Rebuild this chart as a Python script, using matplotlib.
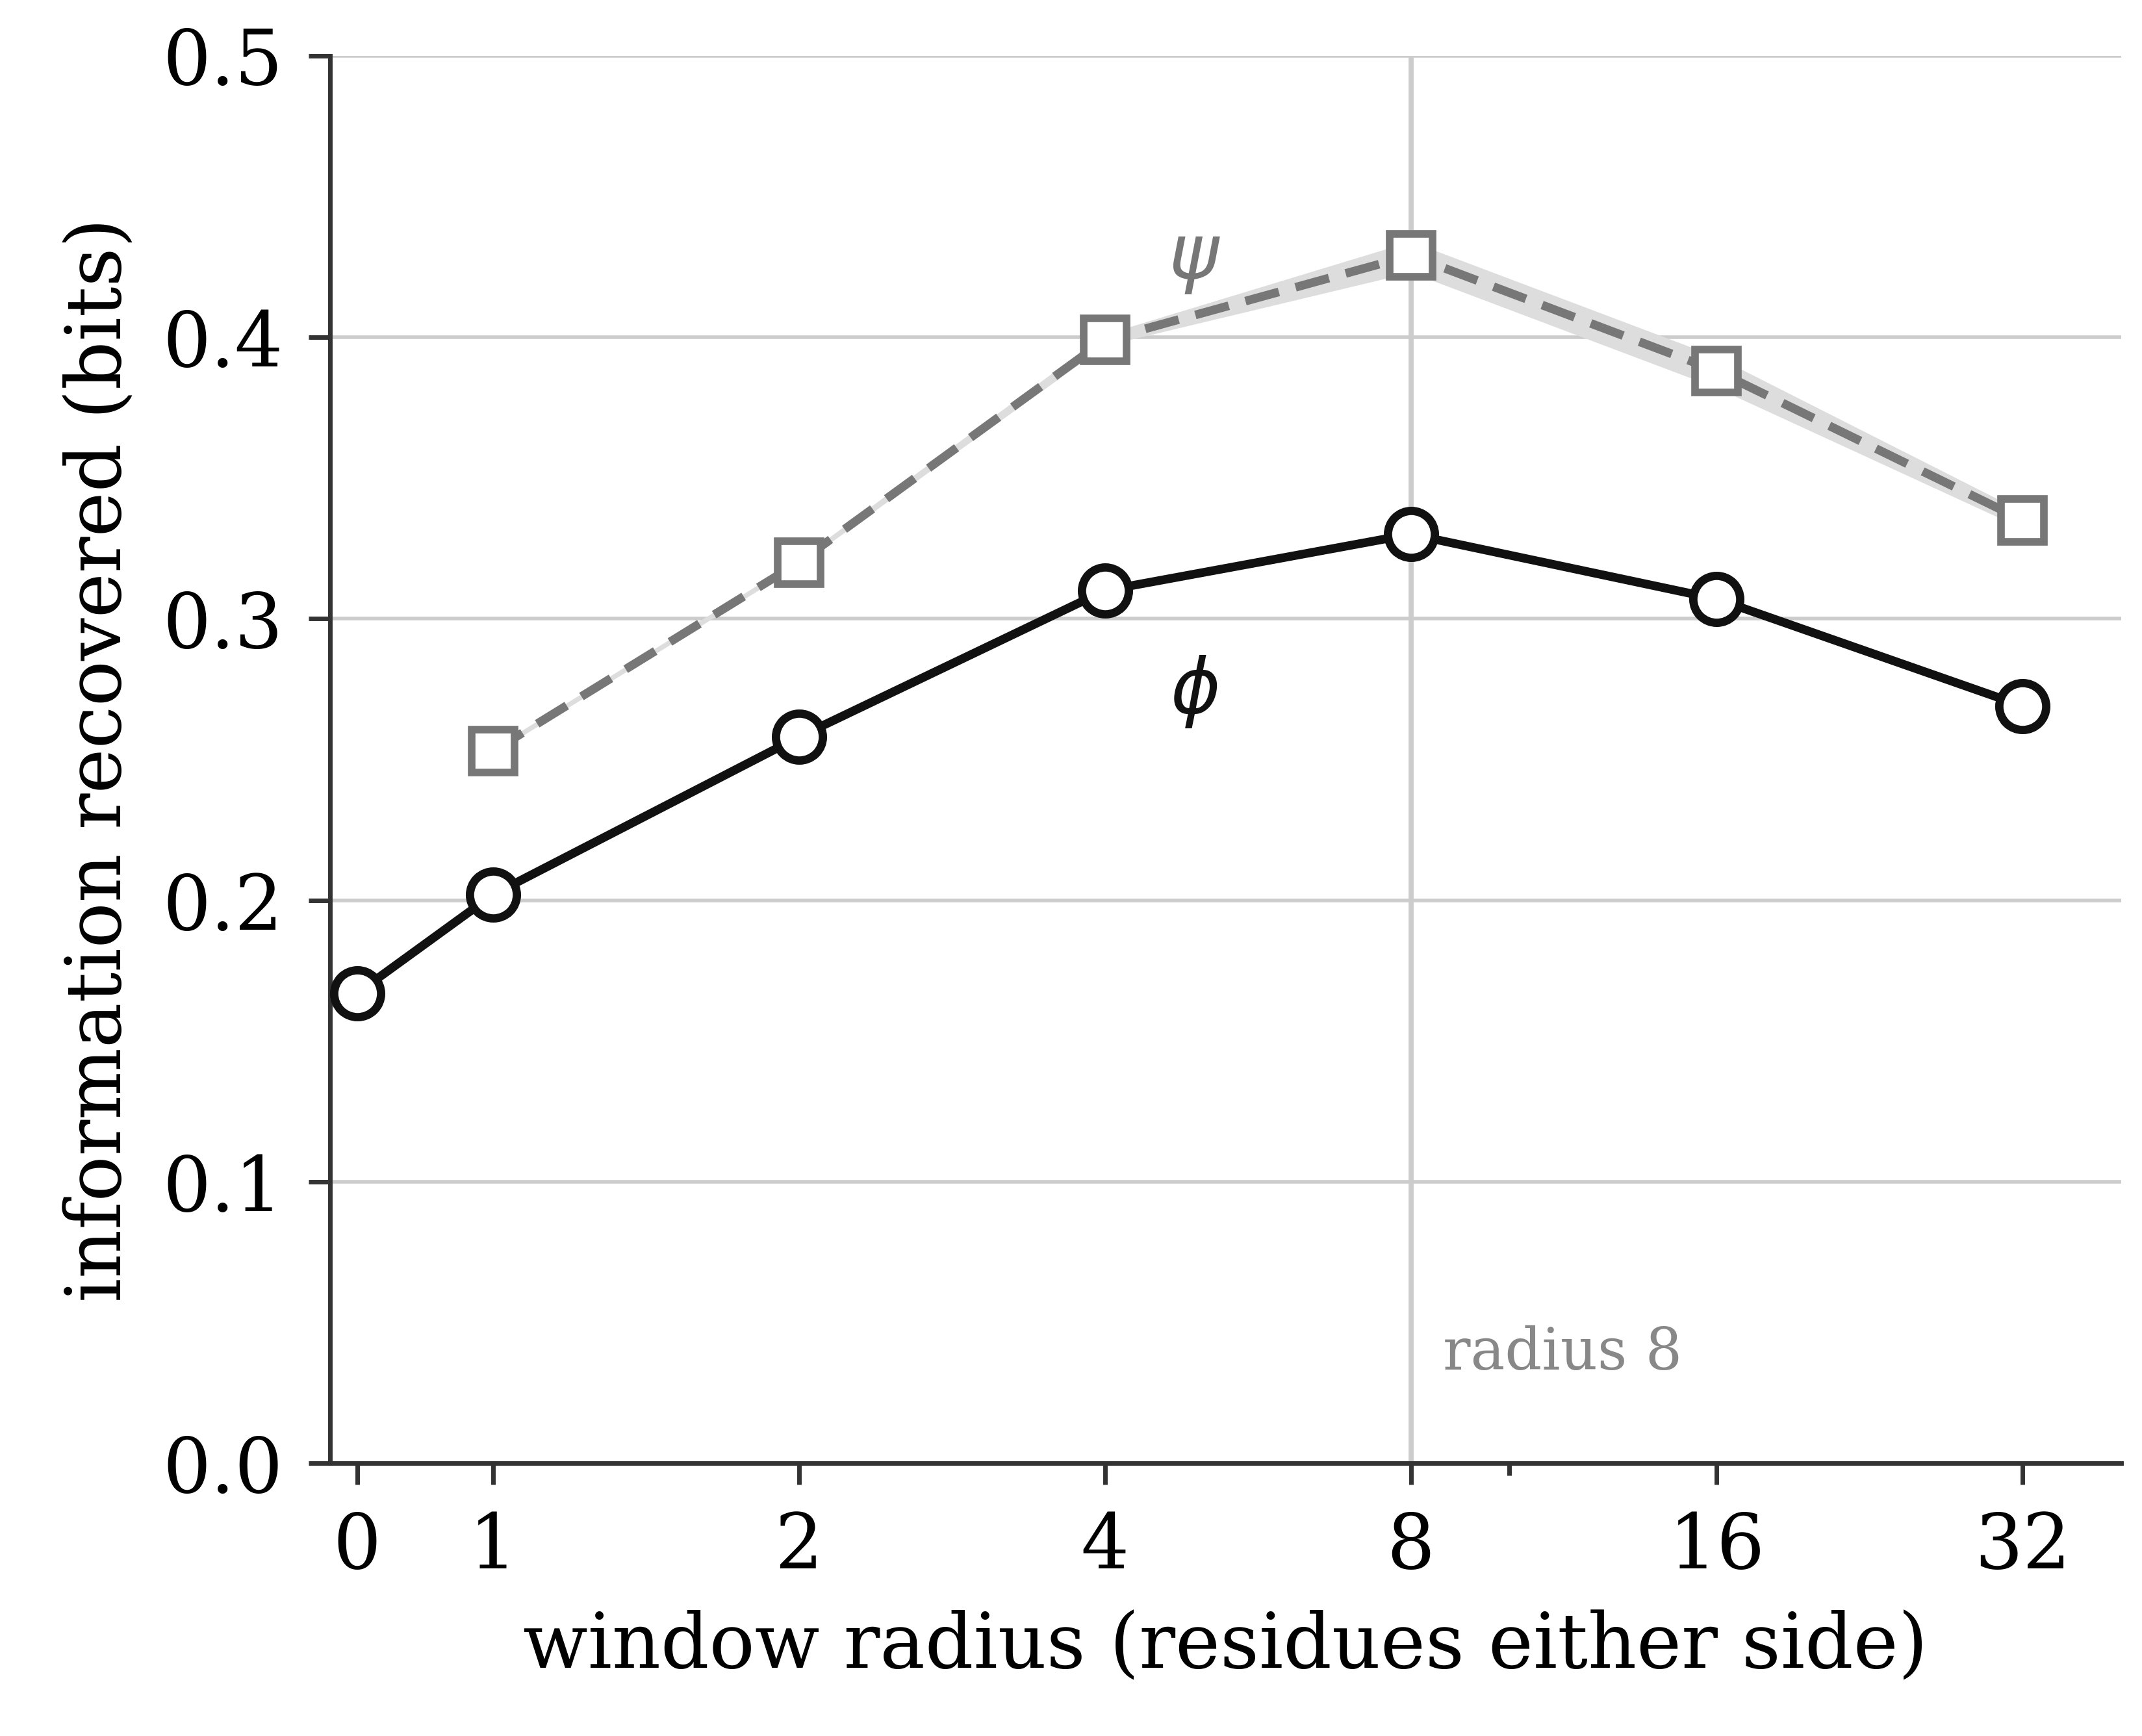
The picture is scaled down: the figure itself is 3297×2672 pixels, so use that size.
import matplotlib
matplotlib.use("Agg")
import matplotlib.pyplot as plt
from matplotlib.ticker import FixedLocator

radius = [0, 1, 2, 4, 8, 16, 32]
phi = [0.167, 0.202, 0.258, 0.310, 0.330, 0.307, 0.269]
psi_r = [1, 2, 4, 8, 16, 32]
psi = [0.253, 0.320, 0.399, 0.429, 0.388, 0.335]
psi_lo = [0.252, 0.319, 0.397, 0.423, 0.382, 0.332]
psi_hi = [0.254, 0.321, 0.401, 0.434, 0.393, 0.338]
xticks = [0, 1, 2, 4, 8, 16, 32]

plt.rcParams['font.family'] = ['DejaVu Serif']
fig = plt.figure(figsize=(16.49, 13.36), dpi=200)
ax = fig.add_axes([0.154, 0.157, 0.836, 0.811])
ax.set_xscale('symlog', base=2, linthresh=1, linscale=0.222)

for y in [0.1, 0.2, 0.3, 0.4, 0.5]:
    ax.axhline(y, color='#cccccc', lw=2, zorder=0)
ax.axvline(8, color='#cccccc', lw=2.8, zorder=0)

ax.fill_between(psi_r, psi_lo, psi_hi, color='#dddddd', lw=0, zorder=1)
ax.plot(psi_r, psi, color='#777777', lw=4.8, ls=(0, (4, 2)), marker='s', ms=24,
        mfc='white', mec='#777777', mew=4.2, zorder=2)
ax.plot(radius, phi, color='#111111', lw=4.8, marker='o', ms=26,
        mfc='white', mec='#111111', mew=4.6, zorder=3)

ax.text(4.9, 0.428, r'$\psi$', color='#777777', fontsize=42, ha='center', va='center')
ax.text(4.9, 0.274, r'$\phi$', color='#111111', fontsize=42, ha='center', va='center')
ax.text(8.6, 0.039, 'radius 8', color='#888888', fontsize=32, ha='left', va='center')

ax.set_xlim(-0.2, 40)
ax.set_ylim(0, 0.5)
ax.xaxis.set_major_locator(FixedLocator(xticks))
ax.set_xticklabels([str(t) for t in xticks])
ax.xaxis.set_minor_locator(FixedLocator([10]))
ax.set_yticks([0, 0.1, 0.2, 0.3, 0.4, 0.5])
ax.tick_params(labelsize=42, width=2.5, length=12, pad=14, color='#333333')
ax.tick_params(which='minor', width=2.5, length=7, color='#333333')
for s in ['top', 'right']:
    ax.spines[s].set_visible(False)
for s in ['left', 'bottom']:
    ax.spines[s].set_linewidth(2.5)
    ax.spines[s].set_color('#333333')
ax.set_xlabel('window radius (residues either side)', fontsize=42, labelpad=14)
ax.set_ylabel('information recovered (bits)', fontsize=42, labelpad=14)
fig.savefig('out.png', dpi=200)
